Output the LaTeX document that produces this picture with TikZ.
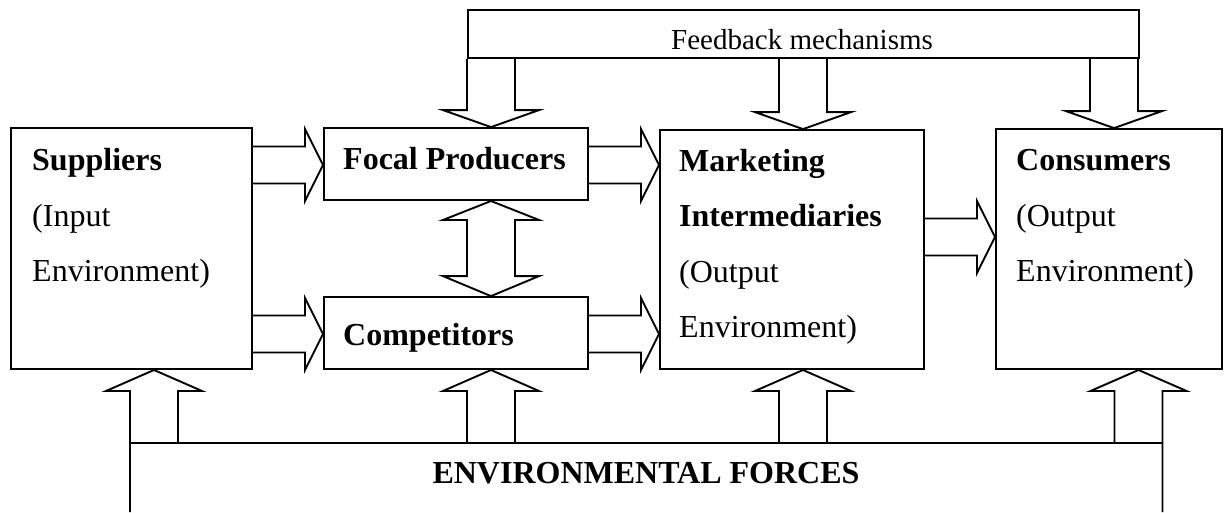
\documentclass[tikz,border=0pt]{standalone}
\usepackage{fontspec}
\setmainfont{Liberation Serif}
\usetikzlibrary{calc}
\tikzset{
  box/.style={draw, line width=1.9pt, inner sep=0pt, anchor=south west},
  blk/.style={draw, line width=1.9pt, line join=miter},
  ln/.style={draw, line width=1.9pt},
  lbl/.style={anchor=base west, inner sep=0pt, font=\fontsize{32}{38}\selectfont},
  blbl/.style={anchor=base west, inner sep=0pt, font=\fontsize{32}{38}\selectfont\bfseries},
}
\newcommand\fbArrow[2]{%
  \draw[blk] let \p1=(fb.south), \p2=(#1.north) in
  (#2pt-24pt,\y1) -- (#2pt-24pt,\y2+17pt) -- (#2pt-48pt,\y2+17pt) -- (#2pt,\y2)
  -- (#2pt+48pt,\y2+17pt) -- (#2pt+24pt,\y2+17pt) -- (#2pt+24pt,\y1);}
\newcommand\rtArrow[3]{%
  \draw[blk] let \p1=(#1.east), \p2=(#2.west) in
  (\x1,#3pt+18.5pt) -- (\x2-18pt,#3pt+18.5pt) -- (\x2-18pt,#3pt+36pt) -- (\x2,#3pt)
  -- (\x2-18pt,#3pt-36pt) -- (\x2-18pt,#3pt-18.5pt) -- (\x1,#3pt-18.5pt);}
\newcommand\upArrow[4]{%
  \draw[blk] let \p2=(#1.south) in
  (#2pt-24pt,#3pt) -- (#2pt-24pt,\y2-21pt) -- (#2pt-48pt,\y2-21pt) -- (#2pt,\y2)
  -- (#2pt+48pt,\y2-21pt) -- (#2pt+24pt,\y2-21pt) -- (#2pt+24pt,#4pt);}
\begin{document}
\begin{tikzpicture}
\path[use as bounding box, fill=white] (0,0) rectangle (1230pt,512pt);
% boxes
\node[box, minimum width=671pt, minimum height=48pt] (fb) at (467pt,453pt) {};
\node[box, minimum width=241pt, minimum height=241pt] (sup) at (10pt,142pt) {};
\node[box, minimum width=264pt, minimum height=72pt] (foc) at (323pt,311pt) {};
\node[box, minimum width=264pt, minimum height=72pt] (com) at (323pt,142pt) {};
\node[box, minimum width=264pt, minimum height=239pt] (mkt) at (659pt,142pt) {};
\node[box, minimum width=226pt, minimum height=240pt] (con) at (995pt,142pt) {};
% texts
\node[anchor=base, inner sep=0pt, font=\fontsize{29}{34}\selectfont] (fbt) at (802pt,462pt) {Feedback mechanisms};
\node[blbl] (supa) at (32pt,341pt) {Suppliers};
\node[lbl] (supb) at (32pt,286pt) {(Input};
\node[lbl] (supc) at (32pt,231pt) {Environment)};
\node[blbl] (foct) at (343pt,342pt) {Focal Producers};
\node[blbl] (comt) at (343pt,167pt) {Competitors};
\node[blbl] (mkta) at (679pt,340pt) {Marketing};
\node[blbl] (mktb) at (679pt,285pt) {Intermediaries};
\node[lbl] (mktc) at (679pt,230pt) {(Output};
\node[lbl] (mktd) at (679pt,175pt) {Environment)};
\node[blbl] (cona) at (1016pt,341pt) {Consumers};
\node[lbl] (conb) at (1016pt,286pt) {(Output};
\node[lbl] (conc) at (1016pt,231pt) {Environment)};
\node[anchor=base, inner sep=0pt, font=\fontsize{32}{38}\selectfont\bfseries] (env) at (646pt,29pt) {ENVIRONMENTAL FORCES};
% feedback arrows
\fbArrow{foc}{491}
\fbArrow{mkt}{803}
\fbArrow{con}{1114}
% horizontal arrows
\rtArrow{sup}{foc}{347}
\rtArrow{sup}{com}{178}
\rtArrow{foc}{mkt}{347}
\rtArrow{com}{mkt}{178}
\rtArrow{mkt}{con}{275}
% double arrow
\draw[blk] let \p1=(foc.south), \p2=(com.north) in
  (467pt,\y1-19pt) -- (443pt,\y1-19pt) -- (491pt,\y1) -- (539pt,\y1-19pt) -- (515pt,\y1-19pt)
  -- (515pt,\y2+20pt) -- (539pt,\y2+20pt) -- (491pt,\y2) -- (443pt,\y2+20pt) -- (467pt,\y2+20pt) -- cycle;
% environmental forces
\coordinate (eL) at (130pt,69pt);
\coordinate (eR) at (1162.5pt,69pt);
\draw[ln] (eL) -- (eR);
\upArrow{sup}{154}{0}{69}
\upArrow{com}{491}{69}{69}
\upArrow{mkt}{803}{69}{69}
\upArrow{con}{1138.5}{69}{0}
\end{tikzpicture}
\end{document}
